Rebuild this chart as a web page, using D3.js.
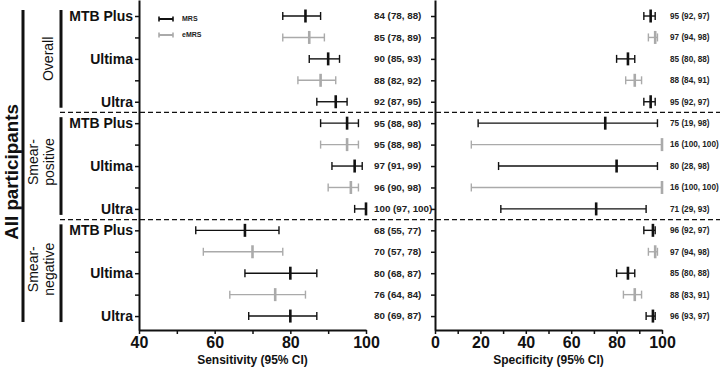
<!DOCTYPE html>
<html><head><meta charset="utf-8">
<script src="https://cdn.jsdelivr.net/npm/d3@7"></script>
<style>body{margin:0;background:#fff;} svg{display:block;font-family:Arial,"Liberation Sans",sans-serif;}</style>
</head><body>
<svg id="c" width="720" height="368"></svg>
<script>
const groups = ["Overall", "Smear-positive", "Smear-negative"];
const groupLabels = [["Overall"], ["Smear-", "positive"], ["Smear-", "negative"]];
const assays = ["MTB Plus", "", "Ultima", "", "Ultra"];
const methods = ["MRS","eMRS","MRS","eMRS","MRS","MRS","eMRS","MRS","eMRS","MRS","MRS","eMRS","MRS","eMRS","MRS"];
const sensEst = [84,85,90,88,92, 95,95,97,96,100, 68,70,80,76,80];
const sensLo  = [78,78,85,82,87, 88,88,91,90,97, 55,57,68,64,69];
const sensHi  = [88,89,93,92,95, 98,98,99,98,100, 77,78,87,84,87];
const sensText = ["84 (78, 88)","85 (78, 89)","90 (85, 93)","88 (82, 92)","92 (87, 95)",
  "95 (88, 98)","95 (88, 98)","97 (91, 99)","96 (90, 98)","100 (97, 100)",
  "68 (55, 77)","70 (57, 78)","80 (68, 87)","76 (64, 84)","80 (69, 87)"];
const specEst = [95,97,85,88,95, 75,100,80,100,71, 96,97,85,88,96];
const specLo  = [92,94,80,84,92, 19,16,28,16,29, 92,94,80,83,93];
const specHi  = [97,98,88,91,97, 98,100,98,100,93, 97,98,88,91,97];
const specText = ["95 (92, 97)","97 (94, 98)","85 (80, 88)","88 (84, 91)","95 (92, 97)",
  "75 (19, 98)","16 (100, 100)","80 (28, 98)","16 (100, 100)","71 (29, 93)",
  "96 (92, 97)","97 (94, 98)","85 (80, 88)","88 (83, 91)","96 (93, 97)"];
const sensTicks = [40,50,60,70,80,90,100];
const specTicks = [0,10,20,30,40,50,60,70,80,90,100];
const legendItems = ["MRS","eMRS"];

const color = {MRS:"#111", eMRS:"#aaa"};
const svg = d3.select("#c");
const nRows = methods.length;
const y = d3.scaleLinear().domain([-0.747, 14.65]).range([0, 330]);
const xS = d3.scaleLinear().domain([40,100]).range([139,366]);
const xP = d3.scaleLinear().domain([0,100]).range([435,662]);
const axisY = 330;

function drawPanel(x, ticks, est, lo, hi, texts, textX, textSize, labelRows, title) {
  const ya = svg.append("g").attr("transform", `translate(${x.range()[0]},0)`)
    .call(d3.axisLeft(y).tickValues(d3.range(nRows)).tickSize(4).tickPadding(2).tickSizeOuter(0)
      .tickFormat(i => labelRows ? (assays[i % 5] || "") : ""));
  ya.select(".domain").attr("stroke", "#111").attr("stroke-width", 2);
  ya.selectAll(".tick line").attr("stroke", "#111").attr("stroke-width", 1.5);
  ya.selectAll(".tick text").attr("font-size", 14).attr("font-weight", "bold").attr("fill", "#111")
    .attr("font-family", "Arial, 'Liberation Sans', sans-serif");
  const xa = svg.append("g").attr("transform", `translate(0,${axisY})`)
    .call(d3.axisBottom(x).tickValues(ticks).tickSize(4).tickPadding(3).tickSizeOuter(0)
      .tickFormat(d => d % 20 === 0 ? d : ""));
  xa.select(".domain").attr("stroke", "#111").attr("stroke-width", 2);
  xa.selectAll(".tick line").attr("stroke", "#111").attr("stroke-width", 1.5);
  xa.selectAll(".tick text").attr("font-size", 16).attr("font-weight", "bold").attr("fill", "#111")
    .attr("font-family", "Arial, 'Liberation Sans', sans-serif");
  svg.append("text").attr("x", (x.range()[0] + x.range()[1]) / 2).attr("y", 364)
    .attr("text-anchor", "middle").attr("font-size", 12).attr("font-weight", "bold").attr("fill", "#111")
    .text(title);
  const g = svg.append("g");
  d3.range(nRows).forEach(i => {
    const c = color[methods[i]], yy = y(i);
    g.append("line").attr("x1", x(lo[i])).attr("x2", x(hi[i])).attr("y1", yy).attr("y2", yy)
      .attr("stroke", c).attr("stroke-width", 1.4);
    [lo[i], hi[i]].forEach(v => g.append("line").attr("x1", x(v)).attr("x2", x(v))
      .attr("y1", yy - 4).attr("y2", yy + 4).attr("stroke", c).attr("stroke-width", 1.4));
    g.append("line").attr("x1", x(est[i])).attr("x2", x(est[i]))
      .attr("y1", yy - 6.5).attr("y2", yy + 6.5).attr("stroke", c).attr("stroke-width", 2.6);
    g.append("text").attr("x", textX).attr("y", yy).attr("dy", "0.35em")
      .attr("font-size", textSize).attr("font-weight", "bold").attr("fill", "#222").text(texts[i]);
  });
}

drawPanel(xS, sensTicks, sensEst, sensLo, sensHi, sensText, 374, 9.8, true, "Sensitivity (95% CI)");
drawPanel(xP, specTicks, specEst, specLo, specHi, specText, 670, 8.2, false, "Specificity (95% CI)");

[4.5, 9.5].forEach(r => svg.append("line").attr("x1", 60).attr("x2", 720)
  .attr("y1", y(r)).attr("y2", y(r)).attr("stroke", "#111").attr("stroke-width", 1.3)
  .attr("stroke-dasharray", "5,3"));

groups.forEach((gname, k) => {
  const r0 = k * 5, r1 = k * 5 + 4;
  svg.append("line").attr("x1", 61).attr("x2", 61).attr("y1", y(r0) - 6).attr("y2", y(r1) + 6)
    .attr("stroke", "#111").attr("stroke-width", 3);
  const lines = groupLabels[k];
  const cy = y(r0 + 2) - (lines.length > 1 ? 4 : 0);
  const t = svg.append("text").attr("transform", `translate(${lines.length > 1 ? 38 : 53},${cy}) rotate(-90)`)
    .attr("text-anchor", "middle").attr("font-size", 14).attr("fill", "#111");
  lines.forEach((l, j) => t.append("tspan").attr("x", 0).attr("dy", j === 0 ? 0 : 16).text(l));
});

svg.append("line").attr("x1", 23).attr("x2", 23).attr("y1", 10).attr("y2", 322)
  .attr("stroke", "#111").attr("stroke-width", 3);
svg.append("text").attr("transform", `translate(17.8,172) rotate(-90)`)
  .attr("text-anchor", "middle").attr("font-size", 18.8).attr("font-weight", "bold").attr("fill", "#111")
  .text("All participants");

legendItems.forEach((m, i) => {
  const ly = 19 + i * 16, c = color[m];
  const lg = svg.append("g");
  lg.append("line").attr("x1", 159).attr("x2", 173).attr("y1", ly).attr("y2", ly)
    .attr("stroke", c).attr("stroke-width", 2);
  [159, 173].forEach(xx => lg.append("line").attr("x1", xx).attr("x2", xx)
    .attr("y1", ly - 2.5).attr("y2", ly + 2.5).attr("stroke", c).attr("stroke-width", 1.6));
  lg.append("text").attr("x", 182).attr("y", ly).attr("dy", "0.35em").attr("font-size", 7)
    .attr("font-weight", "bold").attr("fill", "#222").text(m);
});
</script>
</body></html>
